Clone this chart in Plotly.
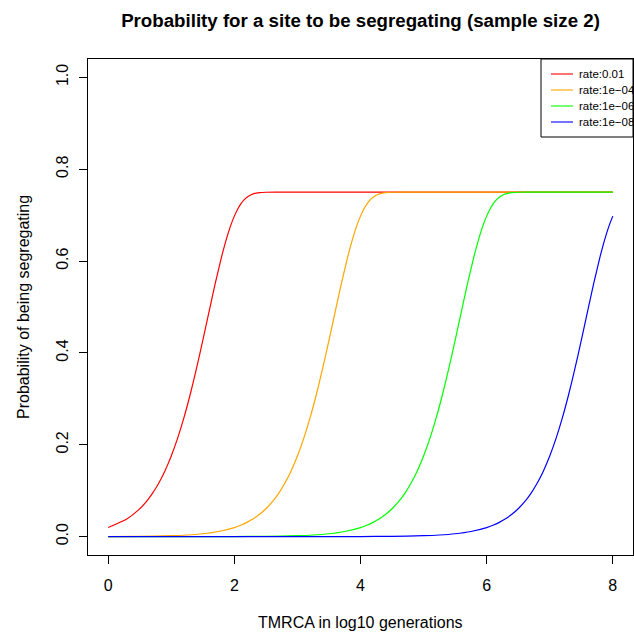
import plotly.graph_objects as go

# ---- data ----
red_x = [0, 0.301, 0.477, 0.602, 0.699, 0.778, 0.845, 0.903, 0.954, 1.0, 1.1, 1.2, 1.3, 1.4, 1.5,
         1.6, 1.7, 1.8, 1.85, 1.9, 1.95, 2.0, 2.05, 2.1, 2.15, 2.2, 2.25, 2.3, 2.35, 2.4, 2.5, 2.7, 8.0]
red_y = [0.01974, 0.03895, 0.05766, 0.07589, 0.09362, 0.11090, 0.12771, 0.14410, 0.16003, 0.17555,
         0.21387, 0.25851, 0.30945, 0.36614, 0.42728, 0.49057, 0.55293, 0.61059, 0.63646, 0.65981,
         0.68035, 0.69789, 0.71237, 0.72387, 0.73265, 0.73904, 0.74346, 0.74633, 0.74808, 0.74908,
         0.74984, 0.75, 0.75]

orange_x = [0, 0.5, 1.0, 1.25, 1.5, 1.75, 2.0, 2.1, 2.2, 2.3, 2.4, 2.5, 2.6, 2.7, 2.8, 2.9, 3.0,
            3.1, 3.2, 3.3, 3.4, 3.5, 3.6, 3.7, 3.8, 3.85, 3.9, 3.95, 4.0, 4.05, 4.1, 4.15, 4.2,
            4.25, 4.3, 4.35, 4.4, 4.5, 4.7, 8.0]
orange_y = [0.0002, 0.00063, 0.0020, 0.00355, 0.0063, 0.01116, 0.01974, 0.02476, 0.03104, 0.03886,
            0.04859, 0.06065, 0.07554, 0.09383, 0.11615, 0.14317, 0.17555, 0.21387, 0.25851,
            0.30945, 0.36614, 0.42728, 0.49057, 0.55293, 0.61059, 0.63646, 0.65981, 0.68035,
            0.69789, 0.71237, 0.72387, 0.73265, 0.73904, 0.74346, 0.74633, 0.74808, 0.74908,
            0.74984, 0.75, 0.75]

green_x = [0, 1.0, 2.0, 2.5, 3.0, 3.25, 3.5, 3.75, 4.0, 4.1, 4.2, 4.3, 4.4, 4.5, 4.6, 4.7, 4.8,
           4.9, 5.0, 5.1, 5.2, 5.3, 5.4, 5.5, 5.6, 5.7, 5.8, 5.85, 5.9, 5.95, 6.0, 6.05, 6.1,
           6.15, 6.2, 6.25, 6.3, 6.35, 6.4, 6.5, 6.7, 8.0]
green_y = [0.000002, 0.00002, 0.0002, 0.00063, 0.0020, 0.00355, 0.0063, 0.01116, 0.01974, 0.02476,
           0.03104, 0.03886, 0.04859, 0.06065, 0.07554, 0.09383, 0.11615, 0.14317, 0.17555,
           0.21387, 0.25851, 0.30945, 0.36614, 0.42728, 0.49057, 0.55293, 0.61059, 0.63646,
           0.65981, 0.68035, 0.69789, 0.71237, 0.72387, 0.73265, 0.73904, 0.74346, 0.74633,
           0.74808, 0.74908, 0.74984, 0.75, 0.75]

blue_x = [0, 2.0, 3.0, 4.0, 4.5, 5.0, 5.25, 5.5, 5.75, 6.0, 6.1, 6.2, 6.3, 6.4, 6.5, 6.6, 6.7,
          6.8, 6.9, 7.0, 7.1, 7.2, 7.3, 7.4, 7.5, 7.6, 7.7, 7.8, 7.85, 7.9, 7.95, 8.0]
blue_y = [0.0, 0.000002, 0.00002, 0.0002, 0.00063, 0.0020, 0.00355, 0.0063, 0.01116, 0.01974,
          0.02476, 0.03104, 0.03886, 0.04859, 0.06065, 0.07554, 0.09383, 0.11615, 0.14317,
          0.17555, 0.21387, 0.25851, 0.30945, 0.36614, 0.42728, 0.49057, 0.55293, 0.61059,
          0.63646, 0.65981, 0.68035, 0.69789]

series_names = ["rate:0.01", "rate:1e\u221204", "rate:1e\u221206", "rate:1e\u221208"]
series_colors = ["#FF0000", "#FFA500", "#00FF00", "#0000FF"]
x_ticks = [0, 2, 4, 6, 8]
y_ticks = [0.0, 0.2, 0.4, 0.6, 0.8, 1.0]
y_tick_labels = ["0.0", "0.2", "0.4", "0.6", "0.8", "1.0"]

# ---- layout geometry (pixels) ----
W, H = 634, 633
L, R, T, B = 88, 1, 59, 78
PW, PH = W - L - R, H - T - B
FONT = "Liberation Sans, Arial, Helvetica, sans-serif"


def px_x(p):
    return (p - L) / PW


def px_y(p):
    return (H - B - p) / PH


fig = go.Figure()
for xs, ys, name, col in zip([red_x, orange_x, green_x, blue_x],
                             [red_y, orange_y, green_y, blue_y],
                             series_names, series_colors):
    fig.add_trace(go.Scatter(x=xs, y=ys, mode="lines", name=name,
                             line=dict(color=col, width=1.2, shape="spline", smoothing=0.7),
                             showlegend=False))

shapes = []
annotations = []
# legend box (right edge coincides with plot box)
shapes.append(dict(type="rect", xref="paper", yref="paper", x0=px_x(541), x1=1.0,
                   y0=px_y(137), y1=1.0, line=dict(color="black", width=1), fillcolor="white",
                   layer="above"))
row_y = [74, 90, 106, 122]
for name, col, ry in zip(series_names, series_colors, row_y):
    shapes.append(dict(type="line", xref="paper", yref="paper", x0=px_x(551), x1=px_x(573),
                       y0=px_y(ry), y1=px_y(ry), line=dict(color=col, width=1.1), layer="above"))
    annotations.append(dict(xref="paper", yref="paper", x=px_x(577), y=px_y(ry),
                            xanchor="left", yanchor="middle", showarrow=False, text=name,
                            font=dict(family=FONT, size=11.5, color="black")))

annotations.append(dict(xref="paper", yref="paper", x=0.5, y=px_y(622), xanchor="center",
                        yanchor="middle", showarrow=False, text="TMRCA in log10 generations",
                        font=dict(family=FONT, size=16, color="black")))
annotations.append(dict(xref="paper", yref="paper", x=px_x(23), y=px_y(307), xanchor="center",
                        yanchor="middle", showarrow=False, textangle=-90,
                        text="Probability of being segregating",
                        font=dict(family=FONT, size=16, color="black")))

fig.update_layout(
    width=W, height=H,
    margin=dict(l=L, r=R, t=T, b=B, pad=0),
    paper_bgcolor="white", plot_bgcolor="white",
    title=dict(text="<b>Probability for a site to be segregating (sample size 2)</b>",
               x=0.5, xref="paper", xanchor="center", y=1 - 20 / H, yref="container",
               yanchor="middle", font=dict(family=FONT, size=18.7, color="black")),
    shapes=shapes, annotations=annotations,
    font=dict(family=FONT, color="black"),
)
fig.update_xaxes(range=[-0.32, 8.32], showgrid=False, zeroline=False, showline=True,
                 mirror=True, linecolor="black", linewidth=1, ticks="outside", ticklen=8,
                 tickcolor="black", tickwidth=1, tickvals=x_ticks,
                 tickfont=dict(family=FONT, size=16, color="black"), ticklabelstandoff=8)
fig.update_yaxes(range=[-0.04, 1.04], showgrid=False, zeroline=False, showline=True,
                 mirror=True, linecolor="black", linewidth=1, ticks="outside", ticklen=8,
                 tickcolor="black", tickwidth=1, tickvals=y_ticks, ticktext=y_tick_labels,
                 tickangle=-90, tickfont=dict(family=FONT, size=16, color="black"),
                 ticklabelstandoff=5)

fig.write_html("out.html", config={"displayModeBar": False},
               post_script="document.body.style.margin='0';document.body.style.overflow='hidden';")
